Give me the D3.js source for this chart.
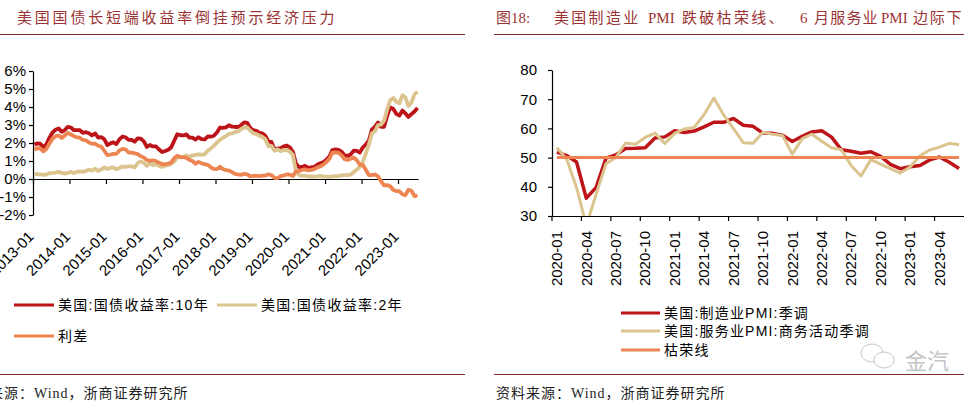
<!DOCTYPE html>
<html>
<head>
<meta charset="utf-8">
<script src="https://cdn.jsdelivr.net/npm/d3@7"></script>
<style>
    body { margin: 0; background: #fff; }
    svg { display: block; }
    text { font-family: "Liberation Sans", Arial, sans-serif; }
</style>
</head>
<body>
<svg id="svg" width="964" height="411"></svg>
<script>
    // left chart: US treasury yields, monthly, 2013-01 .. 2023-07
    var yield10y = [
        1.91, 1.98, 1.96, 1.76, 1.93, 2.30, 2.58, 2.74, 2.81, 2.62, 2.72, 2.90,
        2.86, 2.71, 2.72, 2.71, 2.56, 2.60, 2.54, 2.42, 2.53, 2.30, 2.33, 2.21,
        1.88, 1.98, 2.04, 1.94, 2.20, 2.36, 2.32, 2.17, 2.17, 2.07, 2.26, 2.24,
        2.09, 1.78, 1.89, 1.81, 1.81, 1.64, 1.50, 1.56, 1.63, 1.76, 2.14, 2.49,
        2.43, 2.42, 2.48, 2.30, 2.30, 2.19, 2.32, 2.21, 2.20, 2.36, 2.35, 2.40,
        2.58, 2.86, 2.84, 2.87, 2.98, 2.91, 2.89, 2.89, 3.00, 3.15, 3.12, 2.83,
        2.71, 2.68, 2.57, 2.53, 2.40, 2.07, 2.06, 1.63, 1.70, 1.71, 1.81, 1.86,
        1.76, 1.50, 0.87, 0.66, 0.67, 0.73, 0.62, 0.65, 0.68, 0.79, 0.87, 0.93,
        1.08, 1.26, 1.61, 1.64, 1.62, 1.52, 1.32, 1.28, 1.37, 1.58, 1.56, 1.47,
        1.76, 1.93, 2.13, 2.75, 2.90, 3.14, 2.90, 2.90, 3.52, 3.98, 3.89, 3.62,
        3.53, 3.80, 3.65, 3.45, 3.60, 3.75, 3.95
    ];
    var yield2y = [
        0.27, 0.27, 0.26, 0.23, 0.25, 0.33, 0.34, 0.36, 0.40, 0.34, 0.30, 0.34,
        0.39, 0.33, 0.40, 0.42, 0.39, 0.45, 0.51, 0.47, 0.57, 0.45, 0.53, 0.64,
        0.55, 0.62, 0.64, 0.54, 0.61, 0.69, 0.67, 0.70, 0.71, 0.64, 0.88, 0.98,
        0.90, 0.73, 0.88, 0.77, 0.82, 0.73, 0.67, 0.74, 0.77, 0.84, 0.98, 1.20,
        1.21, 1.20, 1.31, 1.24, 1.30, 1.34, 1.37, 1.34, 1.38, 1.57, 1.70, 1.84,
        2.03, 2.18, 2.28, 2.38, 2.51, 2.53, 2.61, 2.64, 2.77, 2.86, 2.86, 2.68,
        2.54, 2.50, 2.41, 2.34, 2.21, 1.81, 1.84, 1.57, 1.65, 1.55, 1.61, 1.61,
        1.52, 1.33, 0.45, 0.22, 0.17, 0.19, 0.14, 0.14, 0.13, 0.15, 0.17, 0.13,
        0.13, 0.12, 0.15, 0.16, 0.16, 0.20, 0.22, 0.22, 0.24, 0.39, 0.52, 0.68,
        0.98, 1.44, 1.91, 2.54, 2.65, 2.99, 3.02, 3.25, 3.86, 4.38, 4.50, 4.29,
        4.21, 4.65, 4.55, 4.05, 4.25, 4.70, 4.85
    ];
    var spread = [
        1.64, 1.71, 1.70, 1.53, 1.68, 1.97, 2.24, 2.38, 2.41, 2.28, 2.42, 2.56,
        2.47, 2.38, 2.32, 2.29, 2.17, 2.15, 2.03, 1.95, 1.96, 1.85, 1.80, 1.57,
        1.33, 1.36, 1.40, 1.40, 1.59, 1.67, 1.65, 1.47, 1.46, 1.43, 1.38, 1.26,
        1.19, 1.05, 1.01, 1.04, 0.99, 0.91, 0.83, 0.82, 0.86, 0.92, 1.16, 1.29,
        1.22, 1.22, 1.17, 1.06, 1.00, 0.85, 0.95, 0.87, 0.82, 0.79, 0.65, 0.56,
        0.55, 0.68, 0.56, 0.49, 0.47, 0.38, 0.28, 0.25, 0.23, 0.29, 0.26, 0.15,
        0.17, 0.18, 0.16, 0.19, 0.19, 0.26, 0.22, 0.06, 0.05, 0.16, 0.20, 0.25,
        0.24, 0.17, 0.42, 0.44, 0.50, 0.54, 0.48, 0.51, 0.55, 0.64, 0.70, 0.80,
        0.95, 1.14, 1.46, 1.48, 1.46, 1.32, 1.10, 1.06, 1.13, 1.19, 1.04, 0.79,
        0.78, 0.49, 0.22, 0.21, 0.25, 0.15, -0.12, -0.35, -0.34, -0.40, -0.61, -0.67,
        -0.68, -0.85, -0.90, -0.60, -0.65, -0.95, -0.90
    ];
    var yieldXTicks = ["2013-01", "2014-01", "2015-01", "2016-01", "2017-01", "2018-01",
        "2019-01", "2020-01", "2021-01", "2022-01", "2023-01"];
    var yieldYTicks = [6, 5, 4, 3, 2, 1, 0, -1, -2];

    // right chart: US PMI, 2020-01 .. 2023-06
    var pmiMonths = [
        "2020-01", "2020-02", "2020-03", "2020-04", "2020-05", "2020-06", "2020-07", "2020-08", "2020-09", "2020-10", "2020-11", "2020-12",
        "2021-01", "2021-02", "2021-03", "2021-04", "2021-05", "2021-06", "2021-07", "2021-08", "2021-09", "2021-10", "2021-11", "2021-12",
        "2022-01", "2022-02", "2022-03", "2022-04", "2022-05", "2022-06", "2022-07", "2022-08", "2022-09", "2022-10", "2022-11", "2022-12",
        "2023-01", "2023-02", "2023-03", "2023-04", "2023-05", "2023-06"
    ];
    var pmiMfg = [
        51.9, 50.7, 48.5, 36.1, 39.8, 49.8, 50.9, 53.1, 53.2, 53.4, 56.7, 57.1,
        59.2, 58.6, 59.1, 60.5, 62.1, 62.1, 63.4, 61.1, 60.7, 58.4, 58.3, 57.7,
        55.5, 57.3, 58.8, 59.2, 57.0, 52.7, 52.2, 51.5, 52.0, 50.4, 47.7, 46.2,
        46.9, 47.3, 49.2, 50.2, 48.4, 46.3
    ];
    var pmiSvc = [
        53.4, 49.4, 39.8, 26.7, 37.5, 47.9, 50.0, 55.0, 54.6, 56.9, 58.4, 54.8,
        58.3, 59.8, 60.4, 64.7, 70.4, 64.6, 59.9, 55.1, 54.9, 58.7, 58.0, 57.6,
        51.2, 56.5, 58.0, 55.6, 53.4, 52.7, 47.3, 43.7, 49.3, 47.8, 46.2, 44.7,
        46.8, 50.6, 52.6, 53.6, 54.9, 54.4
    ];
    var boomBust = [
        50, 50, 50, 50, 50, 50, 50, 50, 50, 50, 50, 50,
        50, 50, 50, 50, 50, 50, 50, 50, 50, 50, 50, 50,
        50, 50, 50, 50, 50, 50, 50, 50, 50, 50, 50, 50,
        50, 50, 50, 50, 50, 50
    ];
    var pmiYTicks = [30, 40, 50, 60, 70, 80];

    var RED = "#bd1419", TAN = "#dcc48f", ORANGE = "#ec8552";
    var RULE = "#7d2b2b", TITLE = "#9b3434";
    var CJK = '"Liberation Serif", "Noto Sans CJK SC", serif';

    var svg = d3.select("#svg");
    var parseMonth = d3.timeParse("%Y-%m");

    // ---------- left panel ----------
    var months = d3.timeMonth.range(new Date(2013, 0, 1), new Date(2023, 7, 1))
        .map(function (d) { return d3.timeDay.offset(d, 14); });

    var x1 = d3.scaleTime()
        .domain([new Date(2013, 0, 1), new Date(2023, 6, 20)])
        .range([33, 418]);
    var y1 = d3.scaleLinear().domain([-2, 6]).range([215, 71]);

    svg.append("text").attr("x", 17).attr("y", 23)
        .attr("fill", TITLE).attr("font-size", 15).attr("letter-spacing", 2.8)
        .style("font-family", CJK)
        .text("美国国债长短端收益率倒挂预示经济压力");
    svg.append("line").attr("x1", 0).attr("x2", 465).attr("y1", 34.5).attr("y2", 34.5)
        .attr("stroke", RULE).attr("stroke-width", 1);

    var yAx1 = svg.append("g").attr("transform", "translate(33,0)")
        .call(d3.axisLeft(y1).tickValues(yieldYTicks).tickSize(4).tickSizeOuter(0).tickPadding(3)
            .tickFormat(function (d) { return d + "%"; }));
    yAx1.selectAll("text").attr("font-size", 15).attr("fill", "#000")
        .style("font-family", '"Liberation Sans", Arial, sans-serif');
    yAx1.selectAll("line,path").attr("stroke", "#000").attr("stroke-width", 1.2);

    var xAx1 = svg.append("g").attr("transform", "translate(0," + y1(0) + ")")
        .call(d3.axisBottom(x1).tickValues(yieldXTicks.map(parseMonth))
            .tickSize(5).tickSizeOuter(0).tickFormat(""));
    xAx1.selectAll("line,path").attr("stroke", "#000").attr("stroke-width", 1.2);

    svg.append("g").selectAll("text").data(yieldXTicks).enter().append("text")
        .attr("transform", function (d) {
            return "translate(" + (x1(parseMonth(d)) - 2) + ",234) rotate(-45)";
        })
        .attr("text-anchor", "end").attr("dy", "0.35em")
        .attr("font-size", 15).attr("fill", "#000")
        .text(function (d) { return d; });

    var line1 = d3.line()
        .x(function (d, i) { return x1(months[i]); })
        .y(function (d) { return y1(d); });

    [[yield10y, RED], [yield2y, TAN], [spread, ORANGE]].forEach(function (s) {
        svg.append("path").datum(s[0]).attr("d", line1)
            .attr("fill", "none").attr("stroke", s[1]).attr("stroke-width", 3.8)
            .attr("stroke-linejoin", "round");
    });

    var leg1 = [
        { x: 14, y: 305, c: RED, t: "美国:国债收益率:10年" },
        { x: 217, y: 305, c: TAN, t: "美国:国债收益率:2年" },
        { x: 14, y: 336, c: ORANGE, t: "利差" }
    ];
    leg1.forEach(function (d) {
        svg.append("line").attr("x1", d.x).attr("x2", d.x + 40).attr("y1", d.y).attr("y2", d.y)
            .attr("stroke", d.c).attr("stroke-width", 3);
        svg.append("text").attr("x", d.x + 44).attr("y", d.y).attr("dy", "0.35em")
            .attr("font-size", 14).attr("letter-spacing", 1.3)
            .style("font-family", '"Liberation Sans", "Noto Sans CJK SC", sans-serif')
            .text(d.t);
    });

    svg.append("line").attr("x1", 0).attr("x2", 465).attr("y1", 374.5).attr("y2", 374.5)
        .attr("stroke", RULE).attr("stroke-width", 1);
    svg.append("text").attr("x", -41).attr("y", 398)
        .attr("font-size", 14).attr("letter-spacing", 1).attr("fill", "#222")
        .style("font-family", CJK)
        .text("资料来源：Wind，浙商证券研究所");

    // ---------- right panel ----------
    var x2 = d3.scaleBand().domain(pmiMonths).range([552, 964]);
    var bw = x2.bandwidth();
    var y2 = d3.scaleLinear().domain([30, 80]).range([216, 70]);

    var titleParts = [
        { x: 496, t: "图18:", ls: 0 },
        { x: 554, t: "美国制造业", ls: 2.3 },
        { x: 648, t: "PMI", ls: 0 },
        { x: 682, t: "跌破枯荣线、", ls: 2.3 },
        { x: 800, t: "6", ls: 0 },
        { x: 814, t: "月服务业", ls: 1.2 },
        { x: 881, t: "PMI", ls: 0 },
        { x: 913, t: "边际下降", ls: 1.8 }
    ];
    var t2 = svg.append("text").attr("y", 23)
        .attr("fill", TITLE).attr("font-size", 15)
        .style("font-family", CJK);
    titleParts.forEach(function (p) {
        t2.append("tspan").attr("x", p.x).attr("letter-spacing", p.ls).text(p.t);
    });
    svg.append("line").attr("x1", 494).attr("x2", 964).attr("y1", 34.5).attr("y2", 34.5)
        .attr("stroke", RULE).attr("stroke-width", 1);

    var yAx2 = svg.append("g").attr("transform", "translate(552,0)")
        .call(d3.axisLeft(y2).tickValues(pmiYTicks).tickSize(4).tickSizeOuter(0).tickPadding(11));
    yAx2.selectAll("text").attr("font-size", 15).attr("fill", "#000");
    yAx2.selectAll("line,path").attr("stroke", "#000").attr("stroke-width", 1.2);

    var xAx2 = svg.append("g").attr("transform", "translate(0,216)")
        .call(d3.axisBottom(x2).tickValues([]).tickSizeOuter(0));
    xAx2.selectAll("path").attr("stroke", "#000").attr("stroke-width", 1.2);

    var quarterMonths = pmiMonths.filter(function (d, i) { return i % 3 === 0; });
    svg.append("g").selectAll("line").data(quarterMonths).enter().append("line")
        .attr("x1", function (d) { return x2(d); }).attr("x2", function (d) { return x2(d); })
        .attr("y1", 216).attr("y2", 221).attr("stroke", "#000").attr("stroke-width", 1.2);
    svg.append("g").selectAll("text").data(quarterMonths).enter().append("text")
        .attr("transform", function (d) {
            return "translate(" + (x2(d) + bw / 2) + ",231) rotate(-90)";
        })
        .attr("text-anchor", "end").attr("dy", "0.35em")
        .attr("font-size", 15).attr("fill", "#000")
        .text(function (d) { return d; });

    svg.append("clipPath").attr("id", "clipPmi").append("rect")
        .attr("x", 552).attr("y", 70).attr("width", 412).attr("height", 146);

    var line2 = d3.line()
        .x(function (d, i) { return x2(pmiMonths[i]) + bw / 2; })
        .y(function (d) { return y2(d); });

    [[pmiMfg, RED, 3.5], [pmiSvc, TAN, 3], [boomBust, ORANGE, 3]].forEach(function (s) {
        svg.append("path").datum(s[0]).attr("d", line2).attr("clip-path", "url(#clipPmi)")
            .attr("fill", "none").attr("stroke", s[1]).attr("stroke-width", s[2])
            .attr("stroke-linejoin", "round");
    });

    var leg2 = [
        { y: 313, c: RED, t: "美国:制造业PMI:季调" },
        { y: 331, c: TAN, t: "美国:服务业PMI:商务活动季调" },
        { y: 350, c: ORANGE, t: "枯荣线" }
    ];
    leg2.forEach(function (d) {
        svg.append("line").attr("x1", 621).attr("x2", 660).attr("y1", d.y).attr("y2", d.y)
            .attr("stroke", d.c).attr("stroke-width", 3);
        svg.append("text").attr("x", 664).attr("y", d.y).attr("dy", "0.35em")
            .attr("font-size", 14).attr("letter-spacing", 1.2)
            .style("font-family", '"Liberation Sans", "Noto Sans CJK SC", sans-serif')
            .text(d.t);
    });

    // watermark
    svg.append("ellipse").attr("cx", 872).attr("cy", 353).attr("rx", 11).attr("ry", 9)
        .attr("fill", "none").attr("stroke", "#c8c8c8").attr("stroke-width", 1);
    svg.append("ellipse").attr("cx", 884).attr("cy", 360).attr("rx", 10).attr("ry", 8)
        .attr("fill", "#fff").attr("stroke", "#c8c8c8").attr("stroke-width", 1);
    svg.append("text").attr("x", 905).attr("y", 369).attr("font-size", 22)
        .attr("fill", "#c4c4c4").style("font-family", '"Noto Sans CJK SC", sans-serif')
        .text("金汽");

    svg.append("line").attr("x1", 494).attr("x2", 964).attr("y1", 374.5).attr("y2", 374.5)
        .attr("stroke", RULE).attr("stroke-width", 1);
    svg.append("text").attr("x", 496).attr("y", 398)
        .attr("font-size", 14).attr("letter-spacing", 1).attr("fill", "#222")
        .style("font-family", CJK)
        .text("资料来源：Wind，浙商证券研究所");
</script>
</body>
</html>
